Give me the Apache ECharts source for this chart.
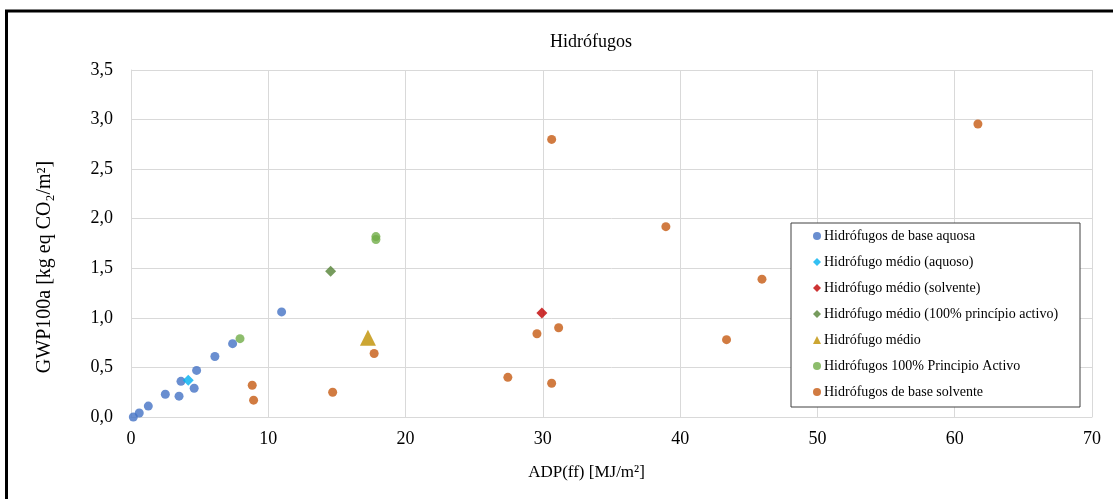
<!DOCTYPE html>
<html>
<head>
<meta charset="utf-8">
<script src="https://cdn.jsdelivr.net/npm/echarts@6/dist/echarts.min.js"></script>
<style>
html,body{margin:0;padding:0;background:#fff;}
#c{width:1120px;height:499px;}
</style>
</head>
<body>
<div id="c"></div>
<script>
const titleText = 'Hidrófugos';
const xAxisName = 'ADP(ff) [MJ/m²]';
const yAxisName = 'GWP100a [kg eq CO₂/m²]';
const seriesNames = [
  'Hidrófugos de base aquosa',
  'Hidrófugo médio (aquoso)',
  'Hidrófugo médio (solvente)',
  'Hidrófugo médio (100% princípio activo)',
  'Hidrófugo médio',
  'Hidrófugos 100% Principio Activo',
  'Hidrófugos de base solvente'
];
const baseAquosa = [[0.17,0.0],[0.6,0.04],[1.26,0.11],[2.5,0.23],[3.5,0.21],[3.64,0.36],[4.6,0.29],[4.78,0.47],[6.11,0.61],[7.4,0.74],[10.97,1.06]];
const medioAquoso = [[4.17,0.37]];
const medioSolvente = [[29.93,1.05]];
const medio100 = [[14.54,1.47]];
const medio = [[17.26,0.80]];
const principioActivo = [[7.94,0.79],[17.84,1.82],[17.84,1.79]];
const baseSolvente = [[8.83,0.32],[8.93,0.17],[14.69,0.25],[17.71,0.64],[27.45,0.40],[29.57,0.84],[30.64,0.34],[31.15,0.90],[30.64,2.80],[38.96,1.92],[43.38,0.78],[45.96,1.39],[61.69,2.955]];

const seriesData = [baseAquosa, medioAquoso, medioSolvente, medio100, medio, principioActivo, baseSolvente];
const colors = ['#4472C4','#00B0F0','#C00000','#548235','#BF9000','#70AD47','#C55A11'];
const symbols = ['circle','diamond','diamond','diamond','triangle','circle','circle'];
const sizes = [9,11,11,11,16,9,9];

const FONT = '"Liberation Serif", "DejaVu Serif", serif';
const chart = echarts.init(document.getElementById('c'));
chart.setOption({
  animation: false,
  backgroundColor: '#fff',
  textStyle: {fontFamily: FONT},
  title: {
    text: titleText, left: 586, top: 28, textAlign: 'center',
    textStyle: {fontFamily: FONT, fontSize: 18, fontWeight: 'normal', color: '#000'}
  },
  grid: {left: 131, right: 28, top: 70, bottom: 82},
  xAxis: {
    type: 'value', min: 0, max: 70, interval: 10,
    name: xAxisName, nameLocation: 'middle', nameGap: 47,
    nameTextStyle: {fontFamily: FONT, fontSize: 17, color: '#000', padding: [0, 50, 0, 0]},
    axisLine: {show: true, lineStyle: {color: '#d9d9d9'}},
    axisTick: {show: false},
    axisLabel: {fontFamily: FONT, fontSize: 18, color: '#000', margin: 13},
    splitLine: {show: true, lineStyle: {color: '#d9d9d9', width: 1}}
  },
  yAxis: {
    type: 'value', min: 0, max: 3.5, interval: 0.5,
    axisLine: {show: true, lineStyle: {color: '#d9d9d9'}},
    axisTick: {show: false},
    axisLabel: {fontFamily: FONT, fontSize: 18, color: '#000', margin: 18,
      formatter: v => v.toFixed(1).replace('.', ',')},
    splitLine: {show: true, lineStyle: {color: '#d9d9d9', width: 1}}
  },
  legend: {
    orient: 'vertical', left: 813, top: 229, z: 10,
    itemWidth: 8, itemHeight: 8, itemGap: 12,
    padding: 0,
    textStyle: {fontFamily: FONT, fontSize: 14, color: '#000', lineHeight: 14, padding: [0,0,0,-2]},
    data: seriesNames.map((n, i) => ({name: n, icon: symbols[i]}))
  },
  graphic: [
    {type: 'rect', shape: {x: 791, y: 223, width: 289, height: 184}, z: 5,
      style: {fill: '#fff', stroke: '#404040', lineWidth: 1}},
    {type: 'line', shape: {x1: 5, y1: 11, x2: 1113, y2: 11}, style: {stroke: '#000', lineWidth: 3}},
    {type: 'line', shape: {x1: 6.5, y1: 10, x2: 6.5, y2: 499}, style: {stroke: '#000', lineWidth: 3}},
    {type: 'text', x: 45, y: 267, rotation: Math.PI / 2, z: 5,
      style: {text: yAxisName, font: '20px ' + FONT, fill: '#000', textAlign: 'center', textVerticalAlign: 'middle'}}
  ],
  series: seriesNames.map((n, i) => ({
    name: n, type: 'scatter', data: seriesData[i],
    symbol: symbols[i], symbolSize: sizes[i],
    itemStyle: {color: colors[i]}
  }))
});
</script>
</body>
</html>
